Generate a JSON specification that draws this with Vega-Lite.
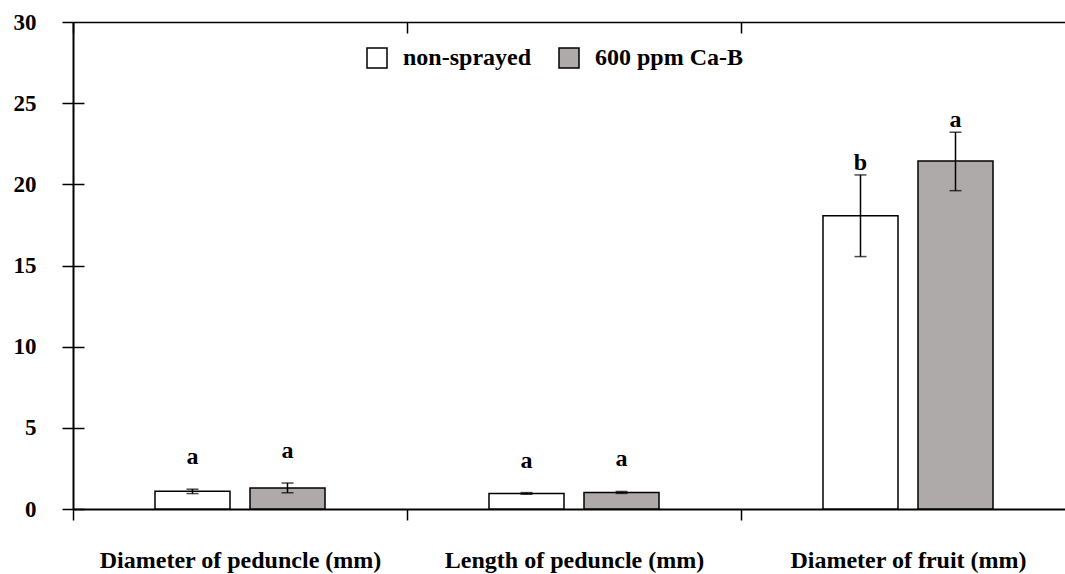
{
  "$schema": "https://vega.github.io/schema/vega-lite/v6.json",
  "width": 992,
  "height": 487,
  "autosize": {"type": "none"},
  "padding": {"left": 73, "top": 22, "right": 0, "bottom": 65},
  "background": "white",
  "config": {"view": {"stroke": null}, "font": "Liberation Serif"},
  "data": {
    "values": [
      {"trait": "Diameter of peduncle (mm)", "treatment": "non-sprayed", "mean": 1.1, "lower": 0.95, "upper": 1.22, "letter": "a"},
      {"trait": "Diameter of peduncle (mm)", "treatment": "600 ppm Ca-B", "mean": 1.3, "lower": 1.0, "upper": 1.6, "letter": "a"},
      {"trait": "Length of peduncle (mm)", "treatment": "non-sprayed", "mean": 0.96, "lower": 0.91, "upper": 1.01, "letter": "a"},
      {"trait": "Length of peduncle (mm)", "treatment": "600 ppm Ca-B", "mean": 1.02, "lower": 0.96, "upper": 1.08, "letter": "a"},
      {"trait": "Diameter of fruit (mm)", "treatment": "non-sprayed", "mean": 18.07, "lower": 15.55, "upper": 20.58, "letter": "b"},
      {"trait": "Diameter of fruit (mm)", "treatment": "600 ppm Ca-B", "mean": 21.44, "lower": 19.61, "upper": 23.21, "letter": "a"}
    ]
  },
  "encoding": {
    "x": {
      "field": "trait",
      "type": "nominal",
      "sort": ["Diameter of peduncle (mm)", "Length of peduncle (mm)", "Diameter of fruit (mm)"],
      "scale": {"range": [0, 1002], "paddingInner": 0, "paddingOuter": 0},
      "axis": {
        "title": null,
        "tickBand": "extent",
        "tickSize": 11,
        "tickWidth": 1.5,
        "tickColor": "black",
        "domainColor": "black",
        "domainWidth": 2,
        "labelFont": "Liberation Serif",
        "labelFontSize": 24,
        "labelFontWeight": "bold",
        "labelColor": "black",
        "labelPadding": 47,
        "labelBaseline": "alphabetic",
        "labelAngle": 0,
        "labelOverlap": false,
        "labelBound": false,
        "labelLimit": 0,
        "grid": true,
        "gridDash": [11, 3000],
        "gridColor": "black",
        "gridWidth": 1.5,
        "gridOpacity": 1
      }
    },
    "xOffset": {
      "field": "treatment",
      "type": "nominal",
      "sort": ["non-sprayed", "600 ppm Ca-B"],
      "scale": {"paddingInner": 0.2105, "paddingOuter": 0.863}
    }
  },
  "layer": [
    {
      "mark": {"type": "bar", "stroke": "black", "strokeWidth": 1.5},
      "encoding": {
        "y": {
          "field": "mean",
          "type": "quantitative",
          "scale": {"domain": [0, 30], "nice": false, "zero": true},
          "axis": {
            "title": null,
            "values": [0, 5, 10, 15, 20, 25, 30],
            "tickSize": 11,
            "tickWidth": 1.5,
            "tickColor": "black",
            "domainColor": "black",
            "domainWidth": 2,
            "labelFont": "Liberation Serif",
            "labelFontSize": 23,
            "labelFontWeight": "bold",
            "labelColor": "black",
            "labelPadding": 26,
            "labelBaseline": "middle",
            "grid": true,
            "gridColor": "black",
            "gridWidth": 1.5,
            "gridOpacity": 1,
            "gridDash": {"condition": {"test": "datum.value === 30", "value": []}, "value": [11, 3000]}
          }
        },
        "fill": {
          "field": "treatment",
          "type": "nominal",
          "scale": {"domain": ["non-sprayed", "600 ppm Ca-B"], "range": ["#ffffff", "#aeaaa9"]},
          "legend": {
            "orient": "none",
            "legendX": 292,
            "legendY": 24,
            "direction": "horizontal",
            "title": null,
            "symbolType": "square",
            "symbolSize": 400,
            "symbolStrokeColor": "black",
            "symbolStrokeWidth": 1.5,
            "labelFont": "Liberation Serif",
            "labelFontSize": 24,
            "labelFontWeight": "bold",
            "labelColor": "black",
            "labelOffset": 14,
            "labelLimit": 0,
            "columnPadding": 24
          }
        }
      }
    },
    {
      "mark": {"type": "rule", "color": "black", "strokeWidth": 1.5},
      "encoding": {
        "y": {"field": "lower", "type": "quantitative"},
        "y2": {"field": "upper"}
      }
    },
    {
      "mark": {"type": "tick", "color": "black", "size": 12, "thickness": 1.5},
      "encoding": {"y": {"field": "lower", "type": "quantitative"}}
    },
    {
      "mark": {"type": "tick", "color": "black", "size": 12, "thickness": 1.5},
      "encoding": {"y": {"field": "upper", "type": "quantitative"}}
    },
    {
      "transform": [{"filter": "datum.trait === 'Diameter of fruit (mm)'"}],
      "mark": {"type": "text", "dy": -5, "baseline": "alphabetic", "fontSize": 24, "fontWeight": "bold", "font": "Liberation Serif", "color": "black"},
      "encoding": {
        "y": {"field": "upper", "type": "quantitative"},
        "text": {"field": "letter"}
      }
    },
    {
      "transform": [{"filter": "datum.trait !== 'Diameter of fruit (mm)'"}],
      "mark": {"type": "text", "dy": -25, "baseline": "alphabetic", "fontSize": 24, "fontWeight": "bold", "font": "Liberation Serif", "color": "black"},
      "encoding": {
        "y": {"field": "upper", "type": "quantitative"},
        "text": {"field": "letter"}
      }
    }
  ]
}
